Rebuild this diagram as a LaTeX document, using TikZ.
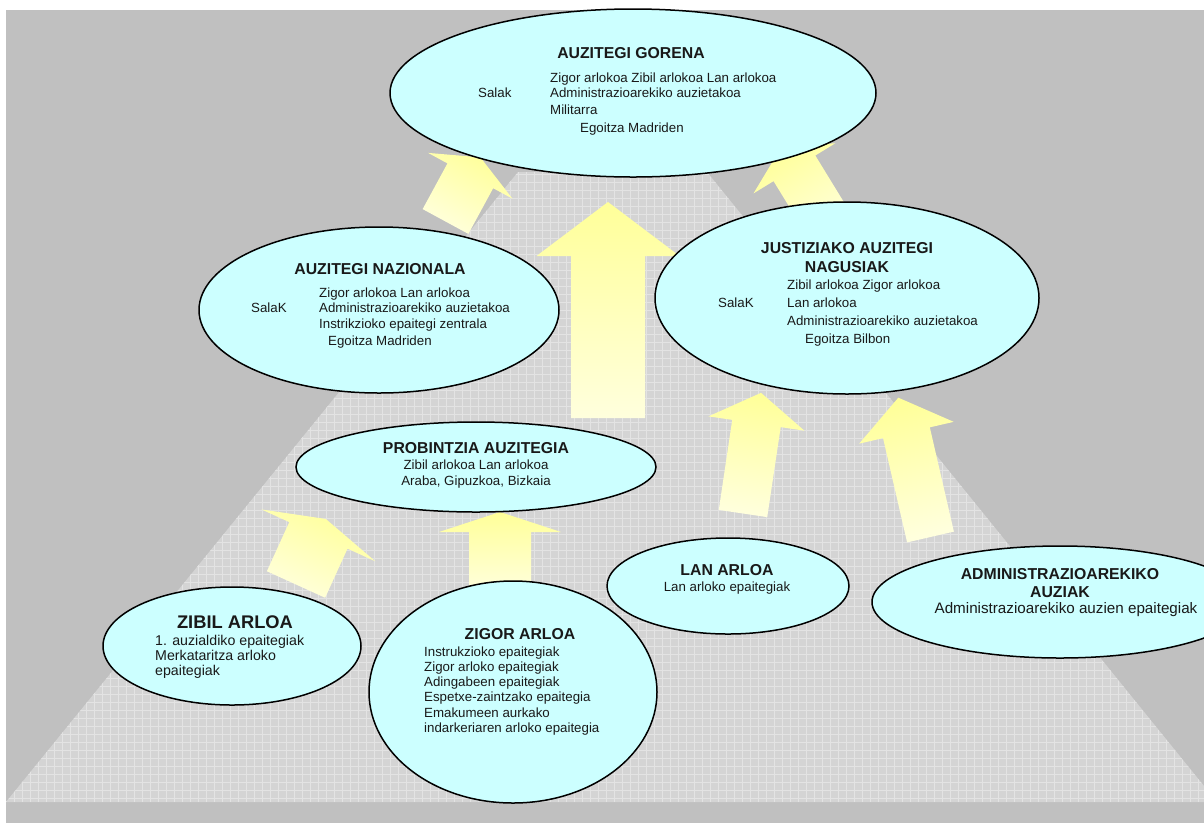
\documentclass[tikz,border=0pt]{standalone}
\usepackage{fontspec}
\setmainfont{Liberation Sans}
\usetikzlibrary{shapes.geometric}
\definecolor{bggray}{HTML}{C0C0C0}
\definecolor{trapgray}{HTML}{D4D4D4}
\definecolor{gridc}{HTML}{E3E3E3}
\definecolor{cyanfill}{HTML}{CCFFFF}
\definecolor{arrowtop}{HTML}{FFFF99}
\definecolor{arrowbot}{HTML}{FFFFDD}
\newcommand\blockarrow[7]{%
  \begin{scope}[shift={(#1,#2)},rotate=#3]
    \shade[top color=arrowtop,bottom color=arrowbot,shading angle=#3]
      (-#6/2,0) -- (-#6/2,-#4) -- (-#7/2,-#4) -- (0,-#4-#5) -- (#7/2,-#4) -- (#6/2,-#4) -- (#6/2,0) -- cycle;
  \end{scope}}
\newcommand\tline[4]{\node[txt,anchor=base west] (#1) at (#2,#3) {#4};}
\begin{document}
\begin{tikzpicture}[x=1pt,y=-1pt,
  court/.style={ellipse,draw=black,line width=1.5pt,fill=cyanfill,inner sep=0pt},
  txt/.style={font=\fontsize{13.3}{15}\selectfont,inner sep=0pt,text=black!90},
  ttl/.style={font=\bfseries\fontsize{15.8}{18}\selectfont,inner sep=0pt,text=black!90,anchor=base}]
\useasboundingbox (0,0) rectangle (1204,823);
\fill[white] (0,0) rectangle (1204,823);
\fill[bggray] (6,10) rectangle (1204,823);
\begin{scope}
  \clip (518,172) -- (707,172) -- (1217,802) -- (6,802) -- cycle;
  \fill[trapgray] (0,160) rectangle (1230,810);
  \foreach \gx in {6,14,...,1222} \draw[gridc,line width=0.8pt] (\gx,172) -- (\gx,802);
  \foreach \gy in {174,182,...,802} \draw[gridc,line width=0.8pt] (0,\gy) -- (1230,\gy);
\end{scope}
% arrows
\blockarrow{445.5}{221.5}{-28.5}{52}{21}{52}{96}
\blockarrow{608}{418}{0}{162}{54}{74}{143}
\blockarrow{831}{228}{31.5}{70}{25}{49}{96}
\blockarrow{296}{584.5}{-24.5}{54}{18}{64}{125}
\blockarrow{500}{592}{0}{60}{20}{62}{122}
\blockarrow{743}{513.5}{-8.5}{91}{31}{49}{97}
\blockarrow{930.5}{537}{13}{107}{36}{48}{97}
% ellipses
\node[court,minimum width=486pt,minimum height=168pt] (gorena) at (633,93) {};
\node[court,minimum width=360pt,minimum height=166pt] (nazionala) at (379,310) {};
\node[court,minimum width=384pt,minimum height=192pt] (justizia) at (847,298) {};
\node[court,minimum width=360pt,minimum height=90pt] (probintzia) at (476,467) {};
\node[court,minimum width=258pt,minimum height=118pt] (zibil) at (232,646) {};
\node[court,minimum width=288pt,minimum height=222pt] (zigor) at (513,692) {};
\node[court,minimum width=242pt,minimum height=96pt] (lan) at (728,586) {};
\node[court,minimum width=376pt,minimum height=112pt] (admin) at (1060,602) {};
% GORENA
\node[ttl] (gt) at (631,58) {AUZITEGI GORENA};
\tline{gs}{478}{97.5}{Salak}
\tline{g1}{550}{82.5}{Zigor arlokoa Zibil arlokoa Lan arlokoa}
\tline{g2}{550}{97.5}{Administrazioarekiko auzietakoa}
\tline{g3}{550}{114.5}{Militarra}
\tline{g4}{580}{132.5}{Egoitza Madriden}
% NAZIONALA
\node[ttl] (nt) at (380,274) {AUZITEGI NAZIONALA};
\tline{ns}{251}{312.5}{SalaK}
\tline{n1}{319}{297.5}{Zigor arlokoa Lan arlokoa}
\tline{n2}{319}{312.5}{Administrazioarekiko auzietakoa}
\tline{n3}{319}{328.5}{Instrikzioko epaitegi zentrala}
\tline{n4}{328}{345.5}{Egoitza Madriden}
% JUSTIZIAKO
\node[ttl] (jt1) at (847,253) {JUSTIZIAKO AUZITEGI};
\node[ttl] (jt2) at (847,272) {NAGUSIAK};
\tline{js}{718}{307.5}{SalaK}
\tline{j1}{787}{289.5}{Zibil arlokoa Zigor arlokoa}
\tline{j2}{787}{307.5}{Lan arlokoa}
\tline{j3}{787}{325.5}{Administrazioarekiko auzietakoa}
\tline{j4}{805}{343.5}{Egoitza Bilbon}
% PROBINTZIA
\node[ttl] (pt) at (476,453) {PROBINTZIA AUZITEGIA};
\node[txt,anchor=base] (p1) at (476,469.5) {Zibil arlokoa Lan arlokoa};
\node[txt,anchor=base] (p2) at (476,485.5) {Araba, Gipuzkoa, Bizkaia};
% ZIBIL
\node[ttl,font=\bfseries\fontsize{18.3}{20}\selectfont] (zt) at (235,628.5) {ZIBIL ARLOA};
\node[txt,font=\fontsize{14.2}{16}\selectfont,anchor=base west] (z1) at (155,645.5) {1. auzialdiko epaitegiak};
\node[txt,font=\fontsize{14.2}{16}\selectfont,anchor=base west] (z2) at (155,660.5) {Merkataritza arloko};
\node[txt,font=\fontsize{14.2}{16}\selectfont,anchor=base west] (z3) at (155,675.5) {epaitegiak};
% ZIGOR
\node[ttl] (ct) at (520,639) {ZIGOR ARLOA};
\tline{c1}{424}{656.5}{Instrukzioko epaitegiak}
\tline{c2}{424}{671.5}{Zigor arloko epaitegiak}
\tline{c3}{424}{686.5}{Adingabeen epaitegiak}
\tline{c4}{424}{701.5}{Espetxe-zaintzako epaitegia}
\tline{c5}{424}{717.5}{Emakumeen aurkako}
\tline{c6}{424}{732.5}{indarkeriaren arloko epaitegia}
% LAN
\node[ttl] (lt) at (727,575) {LAN ARLOA};
\node[txt,anchor=base] (l1) at (727,591.5) {Lan arloko epaitegiak};
% ADMIN
\node[ttl] (at1) at (1060,579) {ADMINISTRAZIOAREKIKO};
\node[ttl] (at2) at (1060,597) {AUZIAK};
\begin{scope}
  \clip (860,595) rectangle (1199,625);
  \node[txt,font=\fontsize{15.2}{17}\selectfont,anchor=base] (a1) at (1066,613) {Administrazioarekiko auzien epaitegiak};
\end{scope}
\end{tikzpicture}
\end{document}
